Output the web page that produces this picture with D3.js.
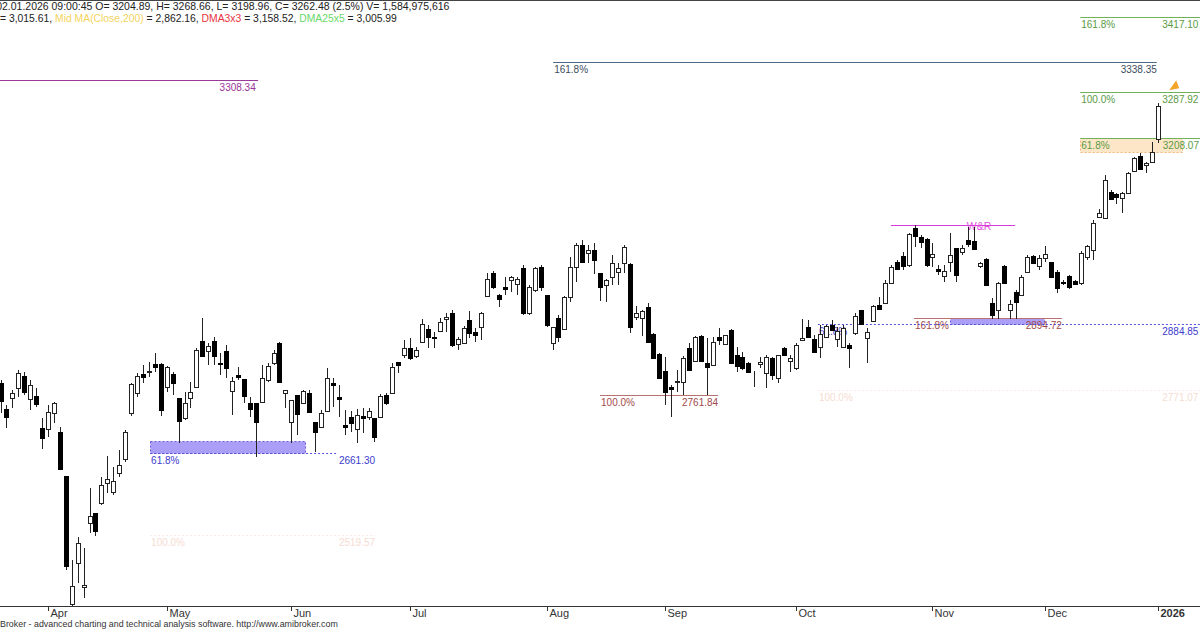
<!DOCTYPE html>
<html><head><meta charset="utf-8">
<script src="https://cdn.jsdelivr.net/npm/d3@7"></script>
<style>
html,body{margin:0;padding:0;background:#fff;}
svg{display:block;font-family:Arial,"Liberation Sans",sans-serif;}
</style>
</head><body>
<svg id="chart" width="1200" height="630"></svg>
<script>
// ---------------- DATA ----------------
const firstBarIndex = -8;   // bar index of first candle (0 = 1 Apr 2025)
const opens = [2782.9,2737.9,2756.9,2774.2,2795.1,2755.2,2760.4,2704.9,
2703.2,2731.0,2698.0,2621.8,2400.0,2471.0,2429.5,2540.3,2557.7,2575.0,2609.6,2594.1,2627.0,2651.2,2731.0,2765.6,2798.6,2802.0,2815.9,2815.9,
2776.0,2798.6,2756.9,2722.3,2756.9,2776.0,2855.7,2838.4,2855.7,2817.6,2838.4,2769.1,2796.8,2789.9,2748.3,2748.3,2750.0,2788.1,2817.6,2852.2,2765.6,
2715.4,2762.1,2748.3,2765.6,2715.4,2706.7,2734.4,2782.9,2758.7,2710.2,2724.1,2703.2,2725.7,2724.1,2722.3,2724.1,2762.1,2765.6,2819.3,2831.4,
2843.6,2829.7,2854.0,2876.5,2862.6,2873.0,2893.8,2904.2,2850.5,2852.2,2892.1,2871.3,2879.9,2933.7,2973.5,2935.4,2949.3,2961.4,2954.5,2982.2,2904.2,2944.1,2983.9,2935.4,
2852.2,2895.6,2876.5,2932.0,2983.9,3022.0,3008.2,3013.4,2973.5,2952.7,2966.6,2975.3,2990.9,2989.1,2897.3,2895.6,2914.6,2867.8,2833.2,
2803.7,2776.0,2784.7,2784.7,2843.6,2821.0,2864.4,2817.6,2814.1,2862.6,2850.5,2874.8,2831.4,2828.0,2817.6,2801.1,2816.7,2800.3,2826.2,2791.6,2843.6,2821.0,
2808.9,2857.4,2879.9,2859.2,2845.3,2862.6,2883.4,2859.2,2845.3,2848.8,2869.6,2909.4,2860.9,2890.4,2918.1,2921.5,2956.2,2992.6,3003.0,2987.4,3051.5,3035.9,3032.5,
3001.3,2980.5,2968.3,2992.6,3016.9,3009.9,3030.7,3029.0,2985.7,2997.8,2921.5,2909.4,2985.7,2909.4,2940.6,2935.4,2975.3,3003.0,2985.7,
2999.5,2992.6,2975.3,2957.1,2968.3,2959.7,2956.2,3001.3,3013.4,3070.6,3068.9,3113.9,3110.4,3103.5,3112.2,3150.3,3176.3,3160.7,3165.9,3204.89];
const highs = [2788.1,2744.8,2770.8,2805.5,2802.0,2788.1,2774.2,2722.3,
2744.8,2750.0,2706.7,2621.8,2476.2,2516.1,2497.0,2601.0,2557.7,2620.0,2656.4,2637.4,2666.8,2701.5,2782.9,2800.3,2814.1,2819.3,2834.9,2817.6,
2812.4,2802.0,2756.9,2767.3,2784.7,2843.6,2895.6,2852.2,2862.6,2834.9,2848.8,2793.3,2810.7,2789.9,2758.7,2748.3,2814.1,2817.6,2840.1,2854.0,2770.8,
2753.5,2762.1,2770.8,2770.8,2715.4,2736.2,2808.9,2791.6,2779.5,2736.2,2734.4,2737.9,2739.6,2739.6,2722.3,2763.9,2765.6,2817.6,2819.3,2857.4,
2860.9,2845.3,2893.8,2883.4,2871.3,2895.6,2904.2,2909.4,2862.6,2881.7,2907.7,2878.2,2906.0,2973.5,2977.0,2937.2,2966.6,2968.3,2966.6,2987.4,2952.7,2983.9,2987.4,2935.4,
2879.9,2900.7,2933.7,3001.3,3025.5,3030.7,3022.0,3025.5,2973.5,2963.1,3004.7,2990.9,3022.0,2990.9,2916.4,2909.4,2921.5,2869.6,2834.9,
2828.0,2779.5,2805.5,2829.7,2852.2,2864.4,2866.1,2860.9,2862.6,2878.2,2866.1,2876.5,2845.3,2836.6,2819.3,2803.7,2828.0,2831.4,2828.0,2831.4,2845.3,2831.4,
2852.2,2893.8,2892.1,2866.1,2883.4,2883.4,2892.1,2879.9,2883.4,2852.2,2904.2,2909.4,2878.2,2918.1,2932.0,2961.4,2987.4,2996.1,3009.9,3042.9,3056.7,3039.4,3034.2,
3025.5,2987.4,2987.4,3042.9,3016.9,3022.0,3053.2,3053.2,2992.6,2999.5,2930.2,2958.0,2987.4,2926.8,2944.1,2970.1,3004.7,3004.7,3004.7,
3020.3,2992.6,2978.7,2961.4,2970.1,2961.4,3011.7,3022.0,3065.4,3084.4,3143.4,3117.4,3112.2,3113.9,3148.6,3174.6,3181.5,3165.9,3200.5,3268.66];
const lows = [2731.0,2704.9,2739.6,2758.7,2762.1,2736.2,2741.4,2668.6,
2689.4,2713.6,2632.2,2458.9,2389.6,2436.4,2410.4,2523.0,2517.8,2571.5,2592.3,2588.9,2620.0,2646.0,2725.7,2758.7,2782.9,2793.3,2802.0,2725.7,
2767.3,2762.1,2678.9,2718.8,2739.6,2774.2,2829.7,2814.1,2814.1,2796.8,2791.6,2727.5,2788.1,2748.3,2724.1,2654.7,2750.0,2784.7,2814.1,2784.7,2739.6,
2678.9,2692.8,2746.6,2732.7,2663.4,2704.9,2734.4,2741.4,2724.1,2692.8,2698.0,2678.9,2696.3,2718.8,2680.7,2722.3,2744.8,2763.9,2800.3,2826.2,
2822.8,2826.2,2852.2,2843.6,2843.6,2871.3,2871.3,2845.3,2840.1,2850.5,2860.9,2854.0,2857.4,2932.0,2945.8,2914.6,2935.4,2940.6,2935.4,2900.7,2900.7,2940.6,2942.4,2879.9,
2840.1,2854.0,2874.8,2923.3,2958.0,2992.6,2990.9,2971.8,2925.0,2923.3,2952.7,2952.7,2973.5,2869.6,2892.1,2864.4,2854.0,2824.5,2789.9,
2744.8,2724.1,2767.3,2762.1,2805.5,2819.3,2819.3,2762.1,2814.1,2848.8,2848.8,2817.6,2802.0,2805.5,2800.3,2776.0,2808.9,2774.2,2788.1,2782.9,2829.7,2802.0,
2805.5,2857.4,2860.9,2834.9,2826.2,2860.9,2873.0,2845.3,2843.6,2808.9,2866.1,2883.4,2817.6,2888.6,2909.4,2919.8,2954.5,2978.7,2978.7,2983.9,3018.6,3016.9,2983.9,
2983.9,2970.1,2958.0,2975.3,2958.0,3004.7,3018.6,3013.4,2982.2,2951.0,2893.8,2893.8,2954.5,2893.8,2893.8,2933.7,2973.5,2989.1,2978.7,
2992.6,2964.9,2938.9,2952.7,2945.8,2952.7,2952.7,2996.1,2996.1,3068.9,3067.1,3100.0,3093.1,3077.5,3110.4,3148.6,3152.0,3146.8,3165.9,3198.96];
const closes = [2751.8,2724.1,2765.6,2800.3,2767.3,2779.5,2746.6,2687.6,
2732.7,2748.3,2633.9,2465.8,2431.2,2505.7,2432.9,2552.5,2526.5,2606.2,2616.6,2613.1,2640.8,2698.0,2781.2,2795.1,2793.3,2803.7,2810.7,2736.2,
2810.7,2782.9,2717.1,2748.3,2767.3,2840.1,2829.7,2847.1,2829.7,2815.0,2808.9,2786.4,2793.3,2760.4,2737.9,2715.4,2791.6,2812.4,2834.9,2784.7,2770.8,
2753.5,2729.2,2769.1,2732.7,2698.0,2731.0,2791.6,2779.5,2755.2,2706.7,2713.6,2727.5,2722.3,2734.4,2689.4,2760.4,2748.3,2810.7,2814.1,2843.6,
2826.2,2840.1,2885.2,2862.6,2860.9,2888.6,2897.3,2848.8,2859.2,2878.2,2869.6,2866.1,2904.2,2963.1,2949.3,2928.5,2945.8,2966.6,2963.1,2904.2,2949.3,2982.2,2949.3,2883.4,
2879.9,2862.6,2932.0,2983.9,3022.0,2992.6,3013.4,2996.1,2949.3,2961.4,2990.9,2982.2,3018.6,2879.9,2904.2,2907.7,2854.0,2826.2,2791.6,
2767.3,2772.5,2786.4,2826.2,2805.5,2862.6,2821.0,2810.7,2854.0,2857.4,2866.1,2817.6,2812.4,2808.9,2802.0,2799.4,2818.5,2828.0,2796.8,2831.4,2831.4,2826.2,
2848.8,2860.9,2862.6,2836.6,2867.8,2881.7,2874.8,2873.0,2878.2,2843.6,2899.0,2885.2,2871.3,2916.4,2911.2,2956.2,2983.9,2980.5,2985.7,3041.1,3037.7,3027.3,2987.4,
3006.5,2977.0,2977.0,3004.7,2970.1,3016.9,3023.8,3015.1,2990.9,2952.7,2900.7,2956.2,2956.2,2919.8,2923.3,2966.6,3001.3,2990.9,2999.5,
3006.5,2966.6,2947.6,2955.4,2949.3,2954.5,3008.2,3020.3,3060.2,3077.5,3134.7,3101.8,3105.2,3112.2,3146.8,3172.8,3153.8,3164.2,3183.2,3262.48];

// month axis: label and the bar index of the first session of that month
const monthLabels = ["Apr","May","Jun","Jul","Aug","Sep","Oct","Nov","Dec","2026"];
const monthBars   = [0, 20, 41, 61, 84, 104, 126, 149, 168, 187];

// Fibonacci / study levels (price, start bar, end bar, ratio text, value text)
const levelPrice = [3308.34, 3338.35, 3417.10, 3287.92, 3208.07, 2761.84, 2894.72, 2884.85, 2661.30, 2519.57, 2771.07];
const levelRatio = ["", "161.8%", "161.8%", "100.0%", "61.8%", "100.0%", "161.8%", "61.8%", "61.8%", "100.0%", "100.0%"];
const levelValue = ["3308.34","3338.35","3417.10","3287.92","3208.07","2761.84","2894.72","2884.85","2661.30","2519.57","2771.07"];
const levelFrom  = [-8.2, 85.1, 173.9, 173.9, 173.9, 93.0, 145.9, 129.7, 17.2, 17.2, 129.7];
const levelTo    = [35.4, 186.8, 194.5, 194.5, 194.5, 112.9, 170.8, 194.5, 48.7, 55.1, 194.5];
const levelValueEnd = [35.0, 186.8, 193.8, 193.8, 193.9, 112.9, 170.8, 193.8, 55.1, 55.1, 193.8];
const levelKind  = ["purple","slate","green","green","green","brown","brown","blue","blue","pale","pale"];

// shaded retracement zones
const zoneTop  = [3208.07, 2894.72, 2682.8];
const zoneBot  = [3183.2, 2884.85, 2661.30];
const zoneFrom = [173.9, 152.0, 17.2];
const zoneTo   = [191.0, 167.8, 43.3];
const zoneKind = ["peach","violet","violet"];

// W&R line
const wrPrice = [3056.7];
const wrFrom = [142.0];
const wrTo = [162.9];
const wrLabel = ["W&R"];
const wrLabelBar = [154.8];

// arrow marker
const arrowBar = [189.9];
const arrowPrice = [3299];

const headerLine1 = "02.01.2026 09:00:45 O= 3204.89, H= 3268.66, L= 3198.96, C= 3262.48 (2.5%) V= 1,584,975,616";
const headerLine2 = [["= 3,015.61, ","#222"],["Mid MA(Close,200)","#f2d45c"],[" = 2,862.16, ","#222"],["DMA3x3","#e8353f"],[" = 3,158.52, ","#222"],["DMA25x5","#6ad86a"],[" = 3,005.99","#222"]];
const footerText = "AmiBroker - advanced charting and technical analysis software. http://www.amibroker.com";

// ---------------- STYLES ----------------
const kindStyle = {
  purple:{line:"#9a3a9a", text:"#993399", dash:null},
  slate:{line:"#4d6a86", text:"#3d4d5d", dash:null},
  green:{line:"#6fb25a", text:"#5a9a45", dash:null},
  brown:{line:"#b87070", text:"#a24a4a", dash:null},
  blue:{line:"#5050dd", text:"#3c3ccc", dash:"2,2"},
  pale:{line:"#fbece7", text:"#f6dcd3", dash:"2,2"}
};
const zoneStyle = {
  peach:{fill:"#fde6c8", stroke:"#f2b27a"},
  violet:{fill:"#ab9ef6", stroke:"#6a5ad8"}
};
const labelSize = 10;

// ---------------- DRAW ----------------
const W = 1200, H = 630, plotBottom = 606;
const svg = d3.select("#chart");
const x = d3.scaleLinear().domain([0, 187]).range([48, 1158]);
const y = d3.scaleLinear().domain([2519.57, 3417.10]).range([535, 17]);

function measure(txt, size, weight) {
  const t = svg.append("text").attr("font-size", size).attr("font-weight", weight||"normal").text(txt);
  const w = t.node().getComputedTextLength(); t.remove(); return w;
}

svg.append("defs").append("clipPath").attr("id","plot")
  .append("rect").attr("x",0).attr("y",0).attr("width",W).attr("height",plotBottom);

const plot = svg.append("g").attr("clip-path","url(#plot)");

// zones
zoneTop.forEach((t,k)=>{
  const st = zoneStyle[zoneKind[k]];
  const x0 = Math.round(x(zoneFrom[k]))+0.5, x1 = Math.round(x(zoneTo[k]))+0.5;
  const y0 = Math.round(y(t))+0.5, y1 = Math.round(y(zoneBot[k]))+0.5;
  plot.append("rect").attr("x",x0).attr("y",y0).attr("width",x1-x0).attr("height",y1-y0)
    .attr("fill",st.fill).attr("stroke",st.stroke).attr("stroke-dasharray","2,2").attr("stroke-width",1);
});

// level lines + labels
levelPrice.forEach((p,k)=>{
  const st = kindStyle[levelKind[k]];
  const yy = Math.round(y(p))+0.5;
  const ln = plot.append("line").attr("x1",x(levelFrom[k])).attr("x2",x(levelTo[k]))
    .attr("y1",yy).attr("y2",yy).attr("stroke",st.line).attr("stroke-width",1);
  if (st.dash) ln.attr("stroke-dasharray",st.dash);
  if (levelRatio[k]) {
    plot.append("text").attr("x",x(levelFrom[k])+1).attr("y",yy+10)
      .attr("font-size",labelSize).attr("fill",st.text).text(levelRatio[k]);
  }
  plot.append("text").attr("x",x(levelValueEnd[k])).attr("y",yy+10)
    .attr("text-anchor","end").attr("font-size",labelSize).attr("fill",st.text).text(levelValue[k]);
});

// W&R
wrPrice.forEach((p,k)=>{
  const yy = Math.round(y(p))+0.5;
  plot.append("line").attr("x1",x(wrFrom[k])).attr("x2",x(wrTo[k])).attr("y1",yy).attr("y2",yy)
    .attr("stroke","#d93ad9").attr("stroke-width",1);
  plot.append("text").attr("x",x(wrLabelBar[k])).attr("y",yy+4).attr("font-size",labelSize+0.5)
    .attr("fill","#e050e0").text(wrLabel[k]);
});

// arrow
arrowBar.forEach((b,k)=>{
  const cx = x(b), cy = y(arrowPrice[k]);
  plot.append("path").attr("d",`M${cx-6},${cy+5} L${cx+4},${cy+3} L${cx+1},${cy-5} Z`)
    .attr("fill","#f5a42a");
});

// candles
const bars = opens.map((o,k)=>({i:firstBarIndex+k, o, h:highs[k], l:lows[k], c:closes[k]}));
plot.append("g").selectAll("line").data(bars).join("line")
  .attr("x1",d=>Math.round(x(d.i))+0.5).attr("x2",d=>Math.round(x(d.i))+0.5)
  .attr("y1",d=>Math.round(y(d.h))).attr("y2",d=>Math.round(y(d.l)))
  .attr("stroke","#222").attr("stroke-width",1);
plot.append("g").selectAll("rect").data(bars).join("rect")
  .attr("x",d=>Math.round(x(d.i))-1.5)
  .attr("width",4)
  .attr("y",d=>Math.round(y(Math.max(d.o,d.c)))+0.5)
  .attr("height",d=>Math.max(0, Math.round(y(Math.min(d.o,d.c))) - Math.round(y(Math.max(d.o,d.c)))))
  .attr("fill",d=>d.c>=d.o ? "#fff" : "#000")
  .attr("stroke",d=>d.c>=d.o ? "#222" : "#000")
  .attr("stroke-width",1);

// top border
svg.append("line").attr("x1",0).attr("x2",W).attr("y1",0.5).attr("y2",0.5).attr("stroke","#444");

// x axis
svg.append("line").attr("x1",0).attr("x2",W).attr("y1",plotBottom+0.5).attr("y2",plotBottom+0.5).attr("stroke","#333");
const ax = svg.append("g");
monthBars.forEach((b,k)=>{
  const tx = Math.round(x(b))+0.5;
  ax.append("line").attr("x1",tx).attr("x2",tx).attr("y1",plotBottom+1).attr("y2",plotBottom+5).attr("stroke","#333");
  ax.append("text").attr("x",tx+2).attr("y",617).attr("font-size",11)
    .attr("font-weight", monthLabels[k]==="2026" ? "bold" : "normal")
    .attr("fill","#333").text(monthLabels[k]);
});

// header line 1: sized so that the visible part spans to x = 450
const visible1 = headerLine1.slice(1);
const s1 = 11 * 448 / measure(visible1, 11);
const zw = measure("0", s1);
svg.append("text").attr("x", 2 - zw).attr("y", 10).attr("font-size", s1).attr("fill","#222").text(headerLine1);

// header line 2: spans to x = 397
const s2 = 11 * 397 / measure(headerLine2.map(d=>d[0]).join(""), 11);
const h2 = svg.append("text").attr("x",0).attr("y",22).attr("font-size",s2);
headerLine2.forEach(([t,c])=>h2.append("tspan").attr("fill",c).text(t));

// footer: visible part "Broker - ..." spans to x = 338
const visibleF = footerText.slice(3);
const sf = 10 * 338 / measure(visibleF, 10);
const aw = measure("Ami", sf);
svg.append("text").attr("x", 0 - aw).attr("y", 627).attr("font-size", sf).attr("fill","#333").text(footerText);
</script>
</body></html>
